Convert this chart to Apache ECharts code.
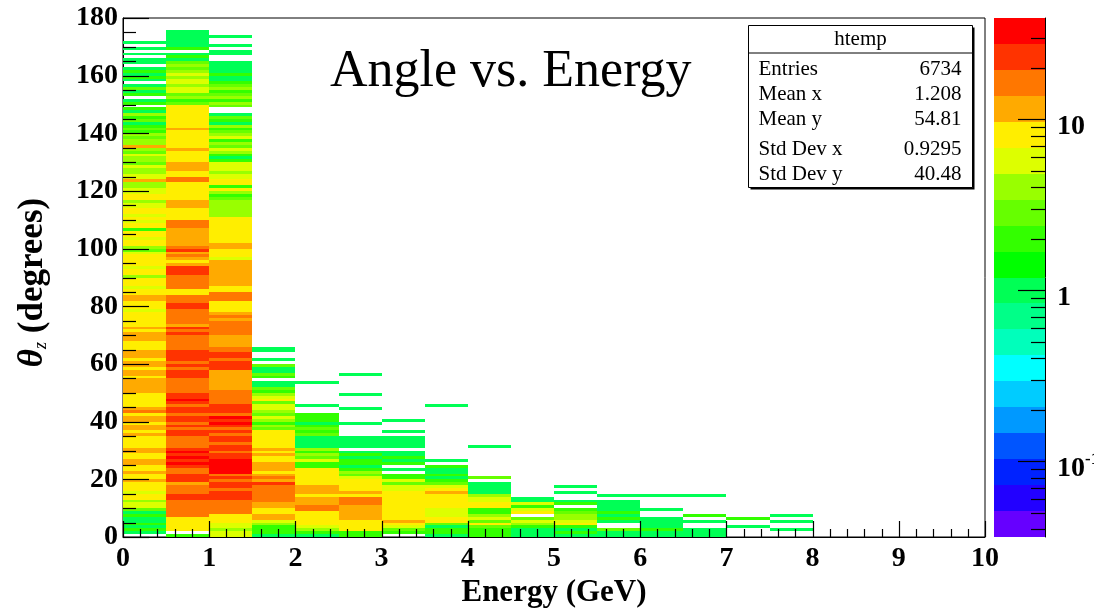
<!DOCTYPE html>
<html>
<head>
<meta charset="utf-8">
<script src="https://cdn.jsdelivr.net/npm/echarts@6/dist/echarts.min.js"></script>
<style>html,body{margin:0;padding:0;background:#fff}#c{width:1094px;height:608px}</style>
</head>
<body>
<div id="c"></div>
<script>
// ---------- DATA ----------
const xTickLabels = ['0','1','2','3','4','5','6','7','8','9','10'];
const yTickLabels = ['0','20','40','60','80','100','120','140','160','180'];
const energyBinWidth = 0.5;   // GeV
const angleBinWidth = 1;      // degrees
// counts per 1-degree angle bin (index = lower edge in degrees), one array per 0.5 GeV energy bin
const col0 = [0,1,2,1,2,1,1,2,1,3, 5,6,4,7,8,5,8,7,9,11, 8,7,12,8,9,11,13,8,7,10, 12,8,7,9,8,11,9,12,13,8,
  10,12,9,15,11,8,7,8,9,7, 11,12,10,13,11,8,12,10,9,11, 12,9,13,11,12,8,7,9,12,11, 11,8,13,7,8,9,8,7,6,9,
  8,9,12,11,7,8,6,7,8,9, 4,7,8,6,7,8,9,7,5,3, 4,7,8,6,7,8,2,8,7,6, 7,5,8,7,6,5,4,7,8,6,
  5,4,4,10,6,5,4,4,5,3, 4,4,5,3,4,11,4,4,3,4, 2,3,2,1,3,2,4,1,2,0, 2,1,0,2,1,3,1,0,1,2, 1,2,1,0,1,1,0,1,0,1, 0,1];
const col1 = [2,0,7,8,9,7,8,15,16,14, 17,15,14,21,23,16,14,18,12,21, 24,20,16,18,25,30,27,32,23,29, 26,17,16,15,18,23,22,18,21,17,
  23,25,18,20,22,17,24,30,27,23, 16,18,15,19,17,21,26,22,17,23, 18,23,25,22,21,17,15,18,16,19, 22,14,21,13,17,16,18,15,17,23,
  21,16,15,18,8,9,17,16,15,18, 16,21,23,20,11,8,12,17,13,21, 14,12,11,13,10,12,11,15,17,16, 8,9,7,8,11,12,10,8,9,7,
  8,9,7,16,15,8,9,11,12,10, 8,7,9,8,12,7,8,9,7,8, 7,11,8,9,7,8,7,9,8,7, 3,2,4,3,6,5,4,6,5,4, 5,4,3,4,3,1,2,1,0,2, 1,1,1,1,1,1];
const col2 = [5,6,4,5,6,8,7,9,15,17, 16,18,15,22,24,20,17,25,21,18, 23,16,30,32,29,31,28,21,25,17, 23,20,18,25,21,16,22,19,27,30,
  26,28,18,22,21,24,17,15,18,16, 15,12,11,13,10,12,11,13,23,25, 21,17,22,24,18,16,11,12,13,10, 15,17,16,18,15,12,16,13,8,7,
  9,8,16,17,15,7,8,11,12,11, 13,10,11,12,11,10,5,8,7,9, 11,12,7,8,9,8,7,9,8,7, 8,4,4,4,4,4,4,3,2,4,
  7,2,8,7,5,6,4,5,6,5, 2,1,2,4,5,3,4,2,5,4, 3,2,4,1,2,3,1,0,0,3, 4,2,4,3,2,4,3,2,1,1, 2,1,1,1,1,0,0,1,1,0, 1,0,0,1];
const col3 = [1,2,2,2,4,5,11,10,8,9, 11,10,15,16,14,17,15,16,21,12, 14,11,8,11,12,11,9,8,11,7, 10,8,9,8,7,8,7,3,4,2,
  4,5,3,4,6,5,3,8,5,4, 2,3,1,1,0,2,3,1,1,3, 0,1,0,0,1,1];
const col4 = [1,2,4,5,7,8,7,8,9,15, 16,11,12,10,8,11,12,11,8,9, 7,8,9,7,2,2,5,3,4,2, 4,1,1,1,1,3,2,3,2,1,
  2,2,2,0,0,1,0,0,0,0, 0,0,0,1];
const col5 = [2,2,7,8,9,7,11,12,10,11, 12,14,16,15,8,10,7,8,9,7, 5,3,4,2,1,2,2,1,2,1, 0,1,1,1,1,0,0,0,0,1,
  0,0,0,0,1,0,0,0,0,1, 0,0,0,0,0,0,1];
const col6 = [0,2,3,5,7,10,8,7,9,8, 7,8,9,7,8,9,6,5,3,5, 2,2,0,1,0,2,1,2,1,1, 0,1,1,1,1,0,1,0,0,0, 1];
const col7 = [1,2,2,1,3,7,8,5,6,5, 7,8,7,9,8,10,7,5,3,2, 1,2,1,1,2,0,1,0,0,0, 0,0,0,0,0,0,0,0,0,0, 0,0,0,0,0,1];
const col8 = [2,2,2,3,7,3,5,4,2,2, 7,8,5,6,4,1,1,1,1,0, 3,0,0,0,0,0,0,0,0,0, 0,1];
const col9 = [1,1,1,2,4,5,3,0,7,6, 2,5,1,1];
const col10 = [1,2,1,2,7,5,4,4,3,2, 0,2,1,0,0,1,0,1];
const col11 = [1,1,3,0,0,1,2,1,2,1, 1,1,1,0,1];
const col12 = [1,1,2,1,1,1,1,0,0,1, 0,0,0,0,1];
const col13 = [1,1,1,0,0,1,0,2,0,0, 0,0,0,0,1];
const col14 = [0,0,0,1,0,0,2];
const col15 = [0,0,1,0,0,1,0,1];
const columns = [col0,col1,col2,col3,col4,col5,col6,col7,col8,col9,col10,col11,col12,col13,col14,col15];

const statsTitle = 'htemp';
const statsLabels = ['Entries','Mean x','Mean y','Std Dev x','Std Dev y'];
const statsValues = ['6734','1.208','54.81','0.9295','40.48'];

// colour (z) scale: log10 range and ROOT-style 20-level rainbow palette (bottom -> top)
const zLogMin = -1.444, zLogMax = 1.594;
const palette = ['#6600ff','#2200ff','#0022ff','#0055ff','#0099ff','#00ccff','#00ffff','#00ffbb','#00ff88','#00ff55',
                 '#00ff00','#33ff00','#66ff00','#99ff00','#ddff00','#ffee00','#ffaa00','#ff7700','#ff3300','#ff0000'];
const colorbarMajor = [0.1, 1, 10];
const colorbarMajorLabels = ['10{s|-1}', '1', '10'];
const colorbarMinor = [0.04,0.05,0.06,0.07,0.08,0.09, 0.2,0.3,0.4,0.5,0.6,0.7,0.8,0.9, 2,3,4,5,6,7,8,9, 20,30];

// ---------- CHART ----------
const serif = '"Liberation Serif","Times New Roman",serif';
const nLevels = palette.length;
const zStep = (zLogMax - zLogMin) / nLevels;
function levelColor(v) {
  let k = Math.floor((Math.log10(v) - zLogMin) / zStep);
  k = Math.max(0, Math.min(nLevels - 1, k));
  return palette[k];
}
const cells = [];
columns.forEach((arr, i) => {
  arr.forEach((n, j) => { if (n > 0) cells.push([i * energyBinWidth, j * angleBinWidth, n]); });
});
const bands = palette.map((c, i) => [i]);

// axis tick marks (drawn above the cells, as ROOT does): [axis(0=x,1=y), value, major?]
const tickMarks = [];
for (let i = 0; i <= 50; i++) tickMarks.push([0, i * 0.2, i % 5 === 0 ? 1 : 0]);
for (let i = 0; i <= 36; i++) tickMarks.push([1, i * 5, i % 4 === 0 ? 1 : 0]);

const chart = echarts.init(document.getElementById('c'), null, {renderer: 'canvas'});
const labelStyle = {color: '#000', fontFamily: serif, fontWeight: 'bold', fontSize: 28};

const option = {
  animation: false,
  backgroundColor: '#fff',
  grid: [
    {left: 123, top: 18, width: 862, height: 519, outerBoundsMode: 'none', containLabel: false,
     show: true, borderColor: '#000', borderWidth: 1, backgroundColor: 'transparent'},
    {left: 994, top: 18, width: 51, height: 519, outerBoundsMode: 'none', containLabel: false}
  ],
  xAxis: [
    {type: 'value', gridIndex: 0, min: 0, max: 10, interval: 1,
     axisLine: {onZero: false, lineStyle: {color: '#000', width: 1}},
     axisTick: {show: false}, minorTick: {show: false},
     splitLine: {show: false}, minorSplitLine: {show: false},
     axisLabel: Object.assign({margin: 8, formatter: v => xTickLabels[Math.round(v)]}, labelStyle),
     name: 'Energy (GeV)', nameLocation: 'middle', nameGap: 40,
     nameTextStyle: {color: '#000', fontFamily: serif, fontWeight: 'bold', fontSize: 31}},
    {type: 'value', gridIndex: 1, min: 0, max: 1, show: false}
  ],
  yAxis: [
    {type: 'value', gridIndex: 0, min: 0, max: 180, interval: 20,
     axisLine: {onZero: false, lineStyle: {color: '#000', width: 1}},
     axisTick: {show: false}, minorTick: {show: false},
     splitLine: {show: false}, minorSplitLine: {show: false},
     axisLabel: Object.assign({margin: 5, padding: [7, 0, 0, 0], formatter: v => yTickLabels[Math.round(v / 20)]}, labelStyle),
     name: '{t|θ}{s|z}{n| (degrees)}', nameLocation: 'middle', nameGap: 73, nameRotate: 90,
     nameTextStyle: {color: '#000', padding: [0, 10, 0, 0], rich: {
       t: {fontFamily: serif, fontWeight: 'bold', fontStyle: 'italic', fontSize: 35, color: '#000'},
       s: {fontFamily: serif, fontStyle: 'italic', fontSize: 18, color: '#000', verticalAlign: 'bottom', lineHeight: 16},
       n: {fontFamily: serif, fontWeight: 'bold', fontSize: 35, color: '#000'}
     }}},
    {type: 'value', gridIndex: 1, min: zLogMin, max: zLogMax, position: 'right',
     axisLine: {show: true, onZero: false, lineStyle: {color: '#000', width: 1}},
     axisTick: {show: false}, axisLabel: {show: false}, splitLine: {show: false}}
  ],
  series: [
    {type: 'custom', name: 'htemp', xAxisIndex: 0, yAxisIndex: 0, data: cells, encode: {x: 0, y: 1},
     renderItem: function (params, api) {
       const x = api.value(0), y = api.value(1), n = api.value(2);
       const p0 = api.coord([x, y]);
       const p1 = api.coord([x + energyBinWidth, y + angleBinWidth]);
       const x0 = Math.round(p0[0]), x1 = Math.round(p1[0]);
       const yb = Math.round(p0[1]), yt = Math.round(p1[1]);
       return {type: 'rect', shape: {x: x0, y: yt, width: x1 - x0, height: yb - yt},
               style: {fill: levelColor(n)}};
     }},
    {type: 'custom', name: 'ticks', xAxisIndex: 0, yAxisIndex: 0, data: tickMarks, silent: true, z: 10,
     encode: {x: 1, y: 1},
     renderItem: function (params, api) {
       const isY = api.value(0) === 1, v = api.value(1), major = api.value(2) === 1;
       if (!isY) {
         const p = api.coord([v, 0]);
         const x = Math.round(p[0]) + 0.5, len = major ? 16 : 8;
         return {type: 'line', shape: {x1: x, y1: p[1], x2: x, y2: p[1] - len}, style: {stroke: '#000', lineWidth: 1.2}};
       }
       const p = api.coord([0, v]);
       const y = Math.round(p[1]) + 0.5, len = major ? 26 : 13;
       return {type: 'line', shape: {x1: p[0], y1: y, x2: p[0] + len, y2: y}, style: {stroke: '#000', lineWidth: 1.2}};
     }},
    {type: 'custom', name: 'palette', xAxisIndex: 1, yAxisIndex: 1, data: bands, silent: true,
     renderItem: function (params, api) {
       const i = api.value(0);
       const lo = zLogMin + i * zStep, hi = zLogMin + (i + 1) * zStep;
       const p0 = api.coord([0, lo]), p1 = api.coord([1, hi]);
       const yb = Math.round(p0[1]), yt = Math.round(p1[1]);
       return {type: 'rect', shape: {x: p0[0], y: yt, width: p1[0] - p0[0], height: yb - yt},
               style: {fill: palette[i]}};
     }},
    {type: 'custom', name: 'zminor', xAxisIndex: 1, yAxisIndex: 1, silent: true, z: 5,
     data: colorbarMinor.map(v => [v]),
     renderItem: function (params, api) {
       const p = api.coord([1, Math.log10(api.value(0))]);
       const y = Math.round(p[1]) + 0.5;
       return {type: 'line', shape: {x1: p[0] - 14, y1: y, x2: p[0], y2: y}, style: {stroke: '#000', lineWidth: 1.2}};
     }},
    {type: 'custom', name: 'zmajor', xAxisIndex: 1, yAxisIndex: 1, silent: true, z: 5,
     data: colorbarMajor.map((v, i) => [v, i]),
     renderItem: function (params, api) {
       const p = api.coord([1, Math.log10(api.value(0))]);
       const y = Math.round(p[1]) + 0.5;
       return {type: 'group', children: [
         {type: 'line', shape: {x1: p[0] - 27, y1: y, x2: p[0], y2: y}, style: {stroke: '#000', lineWidth: 1.2}},
         {type: 'text', x: p[0] + 12, y: y + 7, style: {
           text: colorbarMajorLabels[api.value(1)], fill: '#000', font: 'bold 28px ' + serif,
           verticalAlign: 'middle', align: 'left',
           rich: {s: {fontFamily: serif, fontWeight: 'bold', fontSize: 17, verticalAlign: 'top', lineHeight: 34}}
         }}
       ]};
     }}
  ],
  graphic: [
    {type: 'text', left: 330, top: 46, style: {text: 'Angle vs. Energy', fill: '#000', font: '52px ' + serif}},
    {type: 'group', left: 746, top: 25, children: [
      {type: 'rect', shape: {x: 2, y: 2, width: 224, height: 162}, style: {fill: '#000'}},
      {type: 'rect', shape: {x: 0, y: 0, width: 224, height: 162}, style: {fill: '#fff', stroke: '#000', lineWidth: 1}},
      {type: 'line', shape: {x1: 0, y1: 27.5, x2: 224, y2: 27.5}, style: {stroke: '#000', lineWidth: 1}},
      {type: 'text', x: 112, y: 14, style: {text: statsTitle, fill: '#000', font: '21px ' + serif, align: 'center', verticalAlign: 'middle'}}
    ].concat(statsLabels.map((t, i) => ({type: 'text', x: 10, y: 44 + i * 25 + (i >= 3 ? 5 : 0),
        style: {text: t, fill: '#000', font: '21px ' + serif, align: 'left', verticalAlign: 'middle'}})))
     .concat(statsValues.map((t, i) => ({type: 'text', x: 213, y: 44 + i * 25 + (i >= 3 ? 5 : 0),
        style: {text: t, fill: '#000', font: '21px ' + serif, align: 'right', verticalAlign: 'middle'}})))
    }
  ]
};
chart.setOption(option);
</script>
</body>
</html>
